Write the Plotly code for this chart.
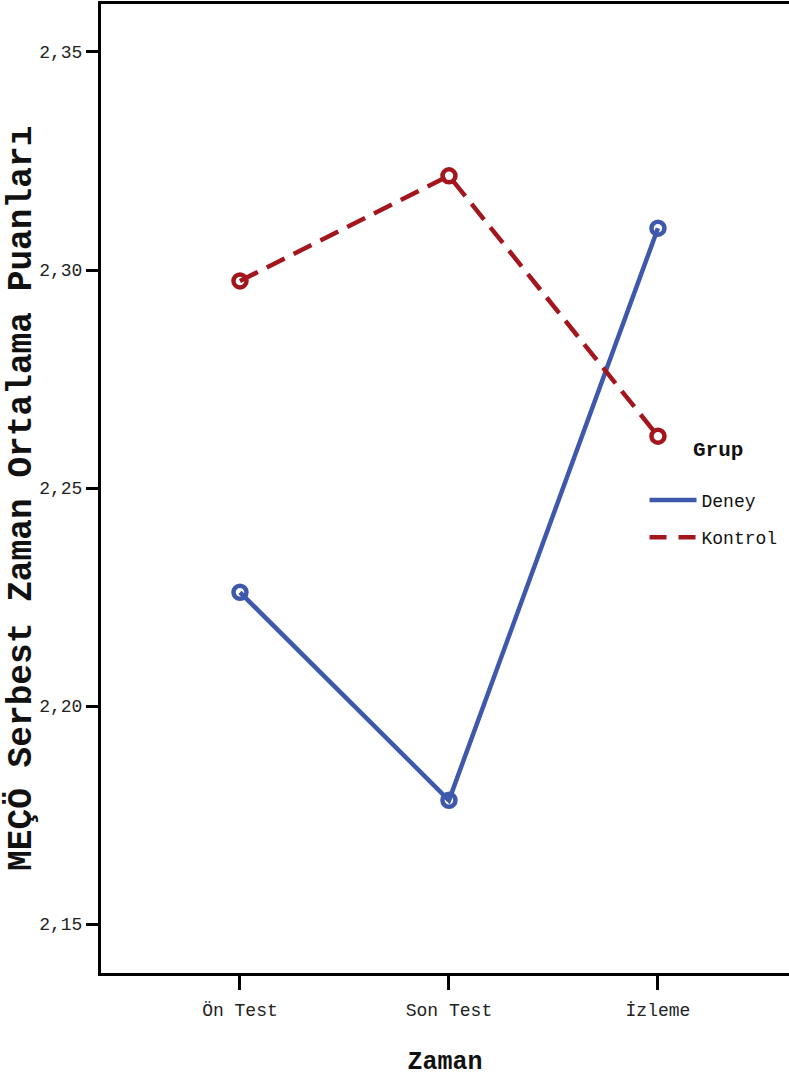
import plotly.graph_objects as go

zaman = ["Ön Test", "Son Test", "İzleme"]
deney = [2.2261, 2.1784, 2.3096]
kontrol = [2.2975, 2.3216, 2.2619]
y_ticks = [2.15, 2.20, 2.25, 2.30, 2.35]
y_tick_labels = ["2,15", "2,20", "2,25", "2,30", "2,35"]

BLUE = "#3E58AC"
RED = "#A3161E"
MONO = "Liberation Mono, Courier New, monospace"
KDASH = "20px,10px"

fig = go.Figure()
fig.add_trace(go.Scatter(
    x=[0, 1, 2], y=deney, name="Deney", mode="lines+markers",
    showlegend=False,
    line=dict(color=BLUE, width=4.5),
    marker=dict(symbol="circle-open", size=13, color=BLUE, line=dict(width=4.5, color=BLUE)),
))
fig.add_trace(go.Scatter(
    x=[0, 1, 2], y=kontrol, name="Kontrol", mode="lines+markers",
    showlegend=False,
    line=dict(color=RED, width=4.5, dash=KDASH),
    marker=dict(symbol="circle-open", size=13, color=RED, line=dict(width=4.5, color=RED)),
))
# legend entries (line samples only)
fig.add_trace(go.Scatter(x=[None], y=[None], name="Deney", mode="lines",
                         legendgroup="d", line=dict(color=BLUE, width=4.5)))
fig.add_trace(go.Scatter(x=[None], y=[None], name="Kontrol", mode="lines",
                         legendgroup="k", line=dict(color=RED, width=4.5, dash="17px,12px")))

fig.add_annotation(
    text="<b>Grup</b>", xref="paper", yref="paper", x=0.8968, y=0.5397,
    xanchor="center", yanchor="middle", showarrow=False,
    font=dict(family=MONO, size=21, color="#111"),
)
fig.add_annotation(
    text="<b>MEÇÖ Serbest Zaman Ortalama Puanları</b>",
    xref="paper", yref="paper", x=-0.1148, y=0.4892,
    xanchor="center", yanchor="middle", showarrow=False, textangle=-90,
    font=dict(family=MONO, size=34.5, color="#111"),
)

fig.update_layout(
    width=789, height=1079,
    margin=dict(l=101, r=0, t=4, b=106, autoexpand=False),
    paper_bgcolor="white", plot_bgcolor="white",
    showlegend=True,
    legend=dict(
        x=0.79, y=0.507, xanchor="left", yanchor="top",
        bgcolor="rgba(0,0,0,0)",
        font=dict(family=MONO, size=18, color="#111"),
        traceorder="grouped", tracegroupgap=11,
        itemwidth=47,
    ),
    xaxis=dict(
        range=[-0.665, 2.627],
        tickmode="array", tickvals=[0, 1, 2], ticktext=zaman,
        showgrid=False, zeroline=False,
        showline=True, linecolor="black", linewidth=3, mirror=True,
        ticks="outside", ticklen=14, tickwidth=3, tickcolor="black",
        ticklabelstandoff=4,
        tickfont=dict(family=MONO, size=18, color="#222"),
        title=dict(text="<b>Zaman</b>", font=dict(family=MONO, size=25, color="#111"), standoff=32),
    ),
    yaxis=dict(
        range=[2.1388, 2.3610],
        tickmode="array", tickvals=y_ticks, ticktext=y_tick_labels,
        showgrid=False, zeroline=False,
        showline=True, linecolor="black", linewidth=3, mirror=False,
        ticks="outside", ticklen=12, tickwidth=3, tickcolor="black",
        tickfont=dict(family=MONO, size=18, color="#222"),
    ),
)

fig.write_html("out.html", post_script="document.body.style.margin='0';",
               config={"displayModeBar": False})
